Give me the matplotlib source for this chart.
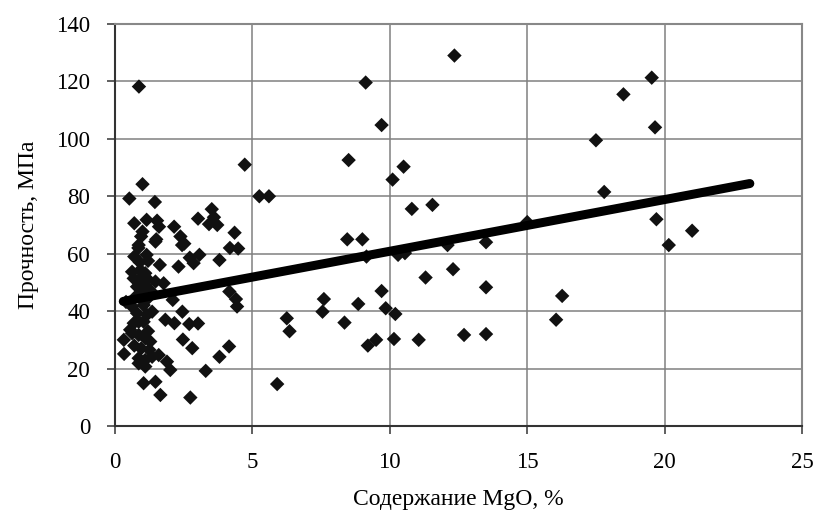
import matplotlib
matplotlib.use('Agg')
import matplotlib.pyplot as plt
import numpy as np

# MgO content, % (x) and strength, MPa (y)
mgo = [
    0.87, 4.72, 5.25, 5.6, 8.5, 9.12, 12.35, 9.7,
    10.1, 10.5, 10.8, 11.55,
    8.45, 9.0, 9.15, 10.3, 10.55, 12.1, 13.5,
    11.3, 12.3, 13.5,
    9.7, 7.6, 8.85, 7.55, 9.85, 10.2,
    6.25, 6.35, 8.35, 9.2, 9.5, 10.15, 11.05, 12.7, 13.5,
    5.9,
    15.0, 16.05, 16.27,
    17.5, 17.8, 18.5, 19.53, 19.65, 19.7, 20.15, 21.0,
    1.0, 0.52, 1.45,
    0.7, 1.15, 1.53, 1.6, 1.0, 0.95, 1.5,
    2.15, 2.38, 2.52, 3.02, 3.52, 3.6, 3.42, 3.72, 4.35,
    4.18, 4.48,
    0.85, 1.15, 0.86, 1.47, 2.44,
    2.72, 3.07, 2.86, 2.31, 3.8, 1.63,
    0.62, 0.92, 1.10, 0.68, 0.86, 1.16, 1.47, 1.77, 0.80, 1.10,
    2.1, 4.16, 4.4, 4.44,
    0.4, 0.62, 1.04, 0.80, 1.16, 1.35, 2.45,
    1.83, 2.16, 0.86, 2.7, 3.02, 0.68, 1.04,
    0.32, 0.62, 0.86, 1.10, 1.28,
    0.33, 0.86, 1.10, 0.86, 1.10, 1.35, 1.59, 1.89, 2.01,
    2.47, 2.81, 3.8, 4.15, 3.3,
    1.04, 1.47, 1.65, 2.74,
    0.75, 1.0, 1.2, 0.9, 1.2, 0.7, 1.3, 0.55, 1.2, 0.95, 1.25, 0.7,
]
strength = [
    118.2, 91, 80, 80, 92.6, 119.6, 129, 104.8,
    85.8, 90.3, 75.6, 77,
    65, 65, 59, 59.6, 60.2, 63, 64,
    51.7, 54.6, 48.3,
    47, 44.2, 42.5, 39.8, 41, 39,
    37.5, 33, 36, 28, 30, 30.3, 30, 31.7, 32,
    14.6,
    71, 37, 45.3,
    99.5, 81.5, 115.5, 121.3, 104, 72, 63, 68,
    84.2, 79.2, 78,
    70.6, 71.8, 71.5, 69.4, 67.7, 66, 65,
    69.4, 66, 63.5, 72.2, 75.5, 72.7, 70.3, 70, 67.3,
    62, 61.8,
    62, 59.6, 63, 64.2, 63,
    58.6, 59.6, 56.7, 55.5, 57.8, 56.1,
    53.7, 54.3, 53.2, 51.4, 50.9, 51.4, 50.3, 49.7, 48.5, 49.1,
    43.9, 46.8, 44.2, 41.6,
    43.2, 41.6, 42.1, 39.3, 38.7, 39.8, 39.8,
    37, 35.8, 36.3, 35.5, 35.7, 35.8, 36.3,
    30, 32.3, 31.7, 30.5, 29.4,
    25.1, 23.6, 23, 21.8, 20.7, 24.1, 24.7, 22.4, 19.5,
    30.1, 27.1, 24.1, 27.7, 19.2,
    14.9, 15.4, 10.8, 9.9,
    45, 46, 44.5, 57, 57.5, 59, 47, 33.5, 33, 27, 26.5, 28,
]

# linear trend as drawn on the chart
trend_range = [0.3, 23.1]
trend_slope = 1.80
trend_intercept = 42.85

x_ticks = [0, 5, 10, 15, 20, 25]
y_ticks = [0, 20, 40, 60, 80, 100, 120, 140]


def main():
    plt.rcParams['font.family'] = ['Liberation Serif', 'DejaVu Serif']

    fig = plt.figure(figsize=(8.17, 5.20), dpi=100)
    ax = fig.add_axes([0.1408, 0.1808, 0.8409, 0.7731])

    # grid
    ax.grid(True, color='#808080', linewidth=1.1)
    ax.set_axisbelow(True)

    # points
    ax.scatter(mgo, strength, marker='D', s=54, color='#111111',
               edgecolors='none', zorder=3)

    # trend line
    tx = np.array(trend_range)
    ax.plot(tx, trend_slope * tx + trend_intercept, color='black',
            linewidth=6.5, solid_capstyle='round', zorder=4)

    ax.set_xlim(0, 25)
    ax.set_ylim(0, 140)
    ax.set_xticks(x_ticks)
    ax.set_yticks(y_ticks)

    ax.tick_params(axis='both', labelsize=16.5, length=6, width=1.2,
                   color='#444444', direction='out')
    ax.tick_params(axis='y', pad=12)
    ax.tick_params(axis='x', pad=13)

    for side in ['left', 'bottom']:
        ax.spines[side].set_color('#333333')
        ax.spines[side].set_linewidth(1.5)
    for side in ['top', 'right']:
        ax.spines[side].set_color('#888888')
        ax.spines[side].set_linewidth(1.5)

    ax.set_xlabel('Содержание MgO, %', fontsize=17, labelpad=11)
    ax.set_ylabel('Прочность, МПа', fontsize=17, labelpad=12)

    fig.savefig('out.png', dpi=100)


if __name__ == '__main__':
    main()
